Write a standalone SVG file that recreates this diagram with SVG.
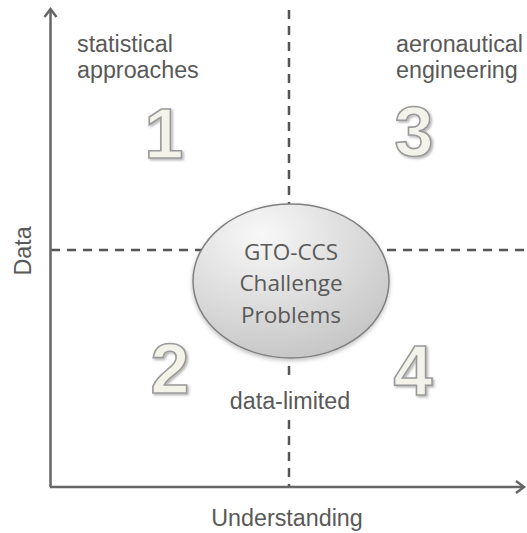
<svg xmlns="http://www.w3.org/2000/svg" width="527" height="533" viewBox="0 0 527 533">
<defs>
<style>
.lbl{font-family:"Liberation Sans",Arial,sans-serif;font-size:23.3px;fill:#595959}
.ctr{font-family:"Open Sans","Noto Sans",sans-serif;font-size:22.5px;fill:#595959;text-anchor:middle}
.num{font-family:"Liberation Sans",Arial,sans-serif;font-size:70px;font-weight:bold;fill:#f3f3e9;stroke:#999;stroke-width:1.6;text-anchor:middle;filter:url(#sh)}
.axis{stroke:#666;stroke-width:2.5;fill:none}
.dash{stroke:#555;stroke-width:2.5;stroke-dasharray:9 7;fill:none}
</style>
<filter id="sh" x="-30%" y="-30%" width="160%" height="160%">
<feDropShadow dx="1.5" dy="1.5" stdDeviation="1.2" flood-color="#000" flood-opacity="0.3"/>
</filter>
<filter id="esh" x="-10%" y="-10%" width="120%" height="130%">
<feDropShadow dx="0" dy="2" stdDeviation="2" flood-color="#000" flood-opacity="0.25"/>
</filter>
<radialGradient id="eg" cx="0.35" cy="0.2" r="0.9">
<stop offset="0" stop-color="#f8f8f8"/>
<stop offset="1" stop-color="#c2c2c2"/>
</radialGradient>
</defs>
<rect width="527" height="533" fill="#fff"/>
<g id="connectors">
<path class="dash" d="M289 10 V204 M289 366 V382 M289 420 V487"/>
<path class="dash" d="M51 250 H527"/>
<path class="axis" d="M50.5 487 V9"/>
<path class="axis" d="M44.5 17 L50.5 9 L56.5 17"/>
<path class="axis" d="M50 487 H524"/>
<path class="axis" d="M516 481 L524 487 L516 493"/>
</g>
<g id="center">
<ellipse cx="291" cy="281" rx="98" ry="77" fill="url(#eg)" stroke="#808080" stroke-width="1.5" filter="url(#esh)"/>
<text class="ctr" x="291" y="260">GTO-CCS</text>
<text class="ctr" x="291" y="291">Challenge</text>
<text class="ctr" x="291" y="323">Problems</text>
</g>
<g id="q1">
<text class="lbl" x="77" y="52">statistical</text>
<text class="lbl" x="77" y="78">approaches</text>
<text class="num" x="164" y="158">1</text>
</g>
<g id="q3">
<text class="lbl" x="396" y="52">aeronautical</text>
<text class="lbl" x="396" y="78">engineering</text>
<text class="num" x="414" y="156">3</text>
</g>
<g id="q2">
<text class="num" x="170" y="393">2</text>
</g>
<g id="q4">
<text class="num" x="413" y="395">4</text>
<text class="lbl" x="290" y="409" text-anchor="middle">data-limited</text>
</g>
<g id="y-label">
<text class="lbl" x="0" y="0" text-anchor="middle" transform="translate(31 251) rotate(-90)">Data</text>
</g>
<g id="x-label">
<text class="lbl" x="287" y="526" text-anchor="middle">Understanding</text>
</g>
</svg>
